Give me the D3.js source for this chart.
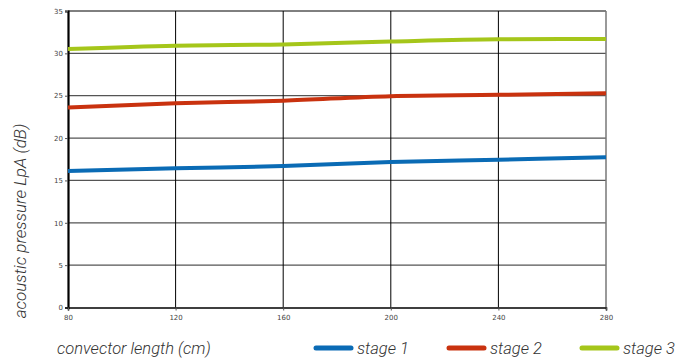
<!DOCTYPE html>
<html><head><meta charset="utf-8">
<script src="https://cdn.jsdelivr.net/npm/d3@7"></script>
<style>body{margin:0;background:#fff}svg{display:block}</style>
</head><body><svg id="c" width="691" height="358"></svg>
<script>
const lengths = [80, 120, 160, 200, 240, 280];
const stage1 = [16.1, 16.43, 16.7, 17.18, 17.45, 17.73];
const stage2 = [23.6, 24.1, 24.41, 24.95, 25.1, 25.3];
const stage3 = [30.5, 30.9, 31.05, 31.4, 31.66, 31.7];
const seriesNames = ["stage 1", "stage 2", "stage 3"];
const seriesColors = ["#0a6bb5", "#c9320f", "#a5c61a"];
const yTicks = [0, 5, 10, 15, 20, 25, 30, 35];
const xLabel = "convector length (cm)";
const yLabel = "acoustic pressure LpA (dB)";

const svg = d3.select("#c");
const L = 68, R = 606, T = 11, B = 307.5;
const x = d3.scaleLinear().domain([80, 280]).range([L, R]);
const y = d3.scaleLinear().domain([0, 35]).range([B, T]);

// horizontal grid
svg.append("g").selectAll("line").data(yTicks.filter(v => v > 0 && v < 35)).join("line")
  .attr("x1", L).attr("x2", R).attr("y1", d => y(d)).attr("y2", d => y(d))
  .attr("stroke", "#555").attr("stroke-width", 1.3);
// vertical grid
svg.append("g").selectAll("line").data(lengths.slice(1, -1)).join("line")
  .attr("x1", d => x(d)).attr("x2", d => x(d)).attr("y1", T).attr("y2", B)
  .attr("stroke", "#000").attr("stroke-width", 1);
// top border
svg.append("line").attr("x1", L).attr("x2", R).attr("y1", y(35)).attr("y2", y(35)).attr("stroke", "#000").attr("stroke-width", 1);
// right border
svg.append("line").attr("x1", R).attr("x2", R).attr("y1", T).attr("y2", B).attr("stroke", "#777").attr("stroke-width", 1.5);

// axes
const yAxis = d3.axisLeft(y).tickValues(yTicks).tickSize(3).tickPadding(2);
const gy = svg.append("g").attr("transform", `translate(${L},0)`).call(yAxis);
gy.select(".domain").attr("stroke", "#000").attr("stroke-width", 2.2);
gy.selectAll(".tick line").attr("stroke", "#555");
gy.selectAll("text").attr("font-family", "DejaVu Sans").attr("font-size", 7).attr("fill", "#444");

const xAxis = d3.axisBottom(x).tickValues(lengths).tickSize(3).tickPadding(5);
const gx = svg.append("g").attr("transform", `translate(0,${B})`).call(xAxis);
gx.select(".domain").attr("stroke", "#000").attr("stroke-width", 1.6);
gx.selectAll(".tick line").attr("stroke", "#555");
gx.selectAll("text").attr("font-family", "DejaVu Sans").attr("font-size", 7).attr("fill", "#444");

// lines
const data = [stage1, stage2, stage3];
const line = d3.line().x((d, i) => x(lengths[i])).y(d => y(d)).curve(d3.curveMonotoneX);
svg.append("g").selectAll("path").data(data).join("path")
  .attr("d", d => line(d)).attr("fill", "none")
  .attr("stroke", (d, i) => seriesColors[i]).attr("stroke-width", 4);

// labels
svg.append("text").attr("x", 57).attr("y", 354).text(xLabel)
  .attr("font-family", "Roboto").attr("font-weight", 300).attr("font-style", "italic")
  .attr("font-size", 16.5).attr("fill", "#333");
svg.append("text").attr("transform", "translate(26,221) rotate(-90)").attr("text-anchor", "middle").text(yLabel)
  .attr("font-family", "Roboto").attr("font-weight", 300).attr("font-style", "italic")
  .attr("font-size", 17).attr("fill", "#333");

// legend
const legX = [316, 449, 582];
const lg = svg.append("g").selectAll("g").data(seriesNames).join("g")
  .attr("transform", (d, i) => `translate(${legX[i]},348)`);
lg.append("line").attr("x1", 0).attr("x2", 35).attr("y1", 0).attr("y2", 0)
  .attr("stroke", (d, i) => seriesColors[i]).attr("stroke-width", 5).attr("stroke-linecap", "round");
lg.append("text").attr("x", 41).attr("y", 6).text(d => d)
  .attr("font-family", "Roboto").attr("font-weight", 300).attr("font-style", "italic")
  .attr("font-size", 16.5).attr("fill", "#333");
</script></body></html>
